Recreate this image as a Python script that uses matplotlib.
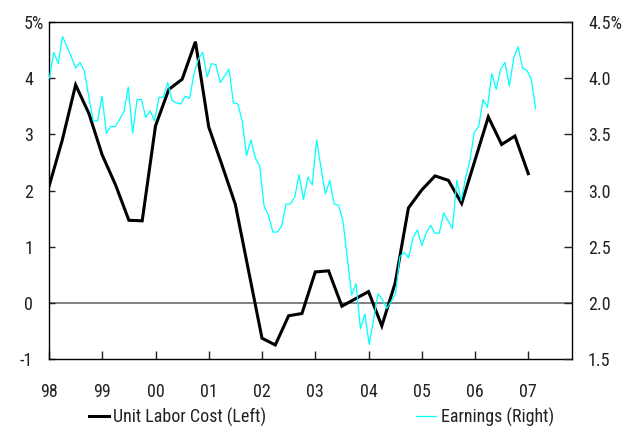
import matplotlib
matplotlib.use("Agg")
import matplotlib.pyplot as plt
from matplotlib import font_manager as fm
from matplotlib.transforms import ScaledTranslation
import numpy as np

# pick a narrow sans face if one is installed
_installed = {(f.name, f.stretch) for f in fm.fontManager.ttflist}
_names = {n for n, _ in _installed}
FAMILY, STRETCH = "Liberation Sans", "normal"
for cand in ["Liberation Sans Narrow", "Arial Narrow", "Roboto Condensed",
             "Open Sans Condensed", "Noto Sans Condensed"]:
    if cand in _names:
        FAMILY = cand
        break
else:
    for n, st in _installed:
        if n in ("Roboto", "Open Sans", "Noto Sans", "DejaVu Sans") and str(st) in (
                "condensed", "semi-condensed", "75", "87.5"):
            FAMILY, STRETCH = n, st
            break

plt.rcParams["font.family"] = [FAMILY, "DejaVu Sans"]
plt.rcParams["font.stretch"] = STRETCH
plt.rcParams["font.size"] = 13
TEXT = "#222222"

# Unit labor cost, % y/y, quarterly from 1998Q1 (left axis)
ulc_start = 1998
ulc = [2.07, 2.90, 3.88, 3.37, 2.63, 2.10, 1.47, 1.46,
       3.15, 3.80, 3.98, 4.65, 3.13, 2.45, 1.75, 0.56,
       -0.63, -0.75, -0.23, -0.19, 0.55, 0.57, -0.06, 0.07,
       0.20, -0.41, 0.35, 1.69, 2.01, 2.26, 2.18, 1.77,
       2.54, 3.31, 2.82, 2.97, 2.30]

# Average hourly earnings, % y/y, monthly (right axis)
earnings = [4.00, 4.23, 4.13, 4.37, 4.28, 4.19, 4.09, 4.14, 4.06, 3.83, 3.62, 3.62,
            3.84, 3.51, 3.57, 3.57, 3.63, 3.70, 3.92, 3.51, 3.81, 3.81, 3.65, 3.71,
            3.62, 3.83, 3.83, 3.96, 3.80, 3.78, 3.77, 3.84, 3.82, 4.04, 4.17, 4.23,
            4.01, 4.13, 4.12, 3.96, 4.02, 4.08, 3.78, 3.77, 3.62, 3.31, 3.45, 3.29,
            3.22, 2.86, 2.78, 2.63, 2.63, 2.68, 2.88, 2.88, 2.94, 3.14, 2.92, 3.12,
            3.05, 3.45, 3.20, 2.97, 3.09, 2.88, 2.87, 2.73, 2.40, 2.07, 2.17, 1.77,
            1.90, 1.63, 1.85, 2.08, 2.03, 1.95, 2.01, 2.08, 2.41, 2.45, 2.40, 2.58,
            2.65, 2.51, 2.62, 2.69, 2.62, 2.62, 2.80, 2.73, 2.66, 3.09, 2.91, 3.11,
            3.27, 3.52, 3.57, 3.81, 3.74, 4.04, 3.90, 4.08, 4.14, 3.93, 4.18, 4.28,
            4.09, 4.07, 3.99, 3.73]

year_ticks = list(range(1998, 2008))
year_labels = ["98", "99", "00", "01", "02", "03", "04", "05", "06", "07"]
left_ticks = [-1, 0, 1, 2, 3, 4, 5]
left_labels = ["-1", "0", "1", "2", "3", "4", "5%"]
right_ticks = [1.5, 2.0, 2.5, 3.0, 3.5, 4.0, 4.5]
right_labels = ["1.5", "2.0", "2.5", "3.0", "3.5", "4.0", "4.5%"]
series_names = ["Unit Labor Cost (Left)", "Earnings (Right)"]

W_PX, H_PX, DPI = 630, 426, 100
fig = plt.figure(figsize=(W_PX / DPI, H_PX / DPI), dpi=DPI)
rect = [49 / W_PX, 1 - 359 / H_PX, (572 - 49) / W_PX, (359 - 22) / H_PX]

ax = fig.add_axes(rect)
axr = fig.add_axes(rect, frameon=False)
axr.patch.set_visible(False)

# left axis: quarterly unit labor cost
ulc_x = ulc_start + np.arange(len(ulc)) / 4.0
ax.axhline(0, color="#808080", lw=1.4, zorder=1)
h_ulc, = ax.plot(ulc_x, ulc, color="black", lw=2.2, zorder=3,
                 solid_joinstyle="miter")
ax.set_xlim(1998, 1998 + 523 / 53.25)
ax.set_ylim(-1, 5)
ax.set_xticks(year_ticks, year_labels)
ax.set_yticks(left_ticks, left_labels)
ax.tick_params(axis="x", direction="in", length=5.5, width=1, pad=17.5,
               colors=TEXT, labelsize=13, top=False)
ax.tick_params(axis="y", direction="in", length=4.5, width=1, pad=11.5,
               colors=TEXT, labelsize=13, right=False)
for s in ax.spines.values():
    s.set_linewidth(1.0)
    s.set_color("black")

# keep the "%" of the top label hanging past the digit column
top_lab = ax.get_yticklabels()[-1]
top_lab.set_horizontalalignment("left")
top_lab.set_transform(top_lab.get_transform()
                      + ScaledTranslation(-9 / DPI, 0, fig.dpi_scale_trans))

# right axis: monthly earnings on its own category scale
h_earn, = axr.plot(np.arange(len(earnings)), earnings, color="#00FFFF", lw=0.9)
axr.set_xlim(-0.1, 119.3)
axr.set_ylim(1.5, 4.5)
axr.xaxis.set_visible(False)
axr.yaxis.tick_right()
axr.set_yticks(right_ticks, right_labels)
axr.tick_params(axis="y", direction="in", length=6, width=1, pad=11.5,
                colors=TEXT, labelsize=13, left=False, right=True)

fig.legend([h_ulc, h_earn], series_names, loc="center left",
           bbox_to_anchor=(89 / W_PX, 1 - 417 / H_PX), ncol=2, frameon=False,
           borderpad=0, borderaxespad=0, handlelength=1.1, handletextpad=0.25,
           columnspacing=8.3, fontsize=13, labelcolor=TEXT)

fig.savefig("out.png", dpi=DPI)
